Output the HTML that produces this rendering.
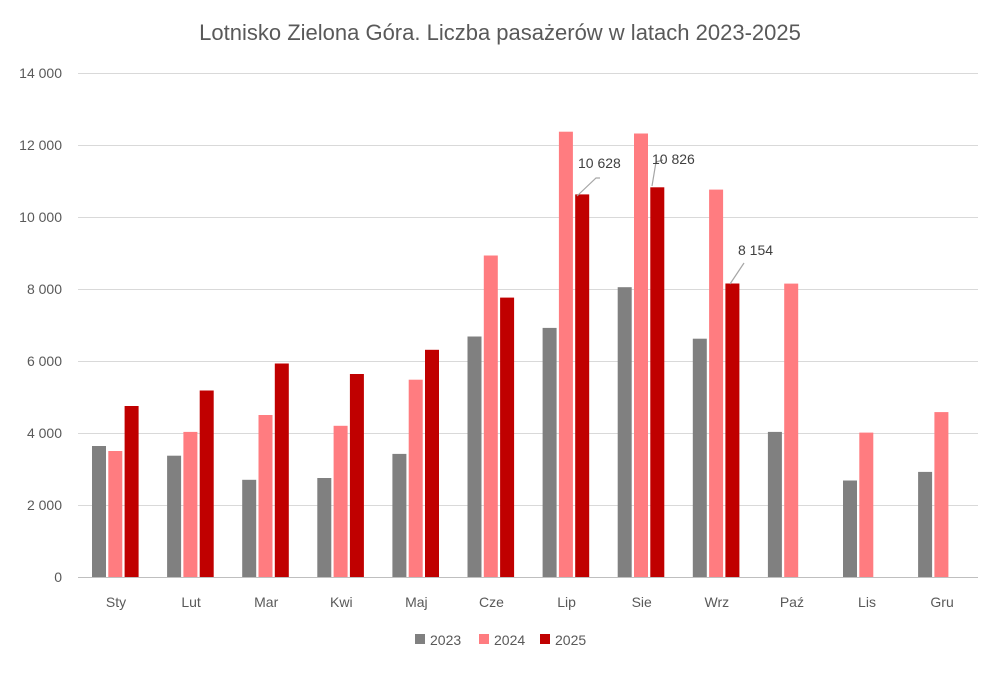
<!DOCTYPE html>
<html><head><meta charset="utf-8"><style>
body{margin:0;background:#fff}
svg{font-family:"Liberation Sans",sans-serif}
</style></head><body>
<svg width="1000" height="669" xmlns="http://www.w3.org/2000/svg">
<rect width="1000" height="669" fill="#fff"/>
<text x="500" y="40" text-anchor="middle" font-size="22" fill="#595959">Lotnisko Zielona Góra. Liczba pasażerów w latach 2023-2025</text>
<g stroke="#d9d9d9" stroke-width="1">
<line x1="78" x2="978" y1="73.5" y2="73.5"/><line x1="78" x2="978" y1="145.5" y2="145.5"/>
<line x1="78" x2="978" y1="217.5" y2="217.5"/><line x1="78" x2="978" y1="289.5" y2="289.5"/>
<line x1="78" x2="978" y1="361.5" y2="361.5"/><line x1="78" x2="978" y1="433.5" y2="433.5"/>
<line x1="78" x2="978" y1="505.5" y2="505.5"/>
</g>
<g font-size="14" fill="#595959" text-anchor="end">
<text x="62" y="78">14 000</text><text x="62" y="150">12 000</text><text x="62" y="222">10 000</text>
<text x="62" y="294">8 000</text><text x="62" y="366">6 000</text><text x="62" y="438">4 000</text>
<text x="62" y="510">2 000</text><text x="62" y="582">0</text>
</g>
<g fill="#808080">
<rect x="92" y="446" width="14" height="131"/>
<rect x="167.1" y="455.7" width="14" height="121.3"/>
<rect x="242.2" y="479.8" width="14" height="97.2"/>
<rect x="317.3" y="478" width="14" height="99"/>
<rect x="392.4" y="453.9" width="14" height="123.1"/>
<rect x="467.5" y="336.5" width="14" height="240.5"/>
<rect x="542.6" y="327.9" width="14" height="249.1"/>
<rect x="617.7" y="287.2" width="14" height="289.8"/>
<rect x="692.8" y="338.7" width="14" height="238.3"/>
<rect x="767.9" y="431.9" width="14" height="145.1"/>
<rect x="843" y="480.5" width="14" height="96.5"/>
<rect x="918.1" y="471.9" width="14" height="105.1"/>
</g>
<g fill="#FF7C80">
<rect x="108.3" y="451" width="14" height="126"/>
<rect x="183.4" y="431.9" width="14" height="145.1"/>
<rect x="258.5" y="415" width="14" height="162"/>
<rect x="333.6" y="425.8" width="14" height="151.2"/>
<rect x="408.7" y="379.7" width="14" height="197.3"/>
<rect x="483.8" y="255.5" width="14" height="321.5"/>
<rect x="558.9" y="131.7" width="14" height="445.3"/>
<rect x="634" y="133.5" width="14" height="443.5"/>
<rect x="709.1" y="189.6" width="14" height="387.4"/>
<rect x="784.2" y="283.6" width="14" height="293.4"/>
<rect x="859.3" y="432.6" width="14" height="144.4"/>
<rect x="934.4" y="412.1" width="14" height="164.9"/>
</g>
<g fill="#C00000">
<rect x="124.6" y="406" width="14" height="171"/>
<rect x="199.7" y="390.5" width="14" height="186.5"/>
<rect x="274.8" y="363.5" width="14" height="213.5"/>
<rect x="349.9" y="374" width="14" height="203"/>
<rect x="425" y="349.8" width="14" height="227.2"/>
<rect x="500.1" y="297.6" width="14" height="279.4"/>
<rect x="575.2" y="194.4" width="14" height="382.6"/>
<rect x="650.3" y="187.3" width="14" height="389.7"/>
<rect x="725.4" y="283.5" width="14" height="293.5"/>
</g>
<line x1="78" x2="978" y1="577.5" y2="577.5" stroke="#bfbfbf"/>
<g font-size="14" fill="#595959" text-anchor="middle">
<text x="116" y="607">Sty</text><text x="191.1" y="607">Lut</text><text x="266.2" y="607">Mar</text>
<text x="341.3" y="607">Kwi</text><text x="416.4" y="607">Maj</text><text x="491.5" y="607">Cze</text>
<text x="566.6" y="607">Lip</text><text x="641.7" y="607">Sie</text><text x="716.8" y="607">Wrz</text>
<text x="791.9" y="607">Paź</text><text x="867" y="607">Lis</text><text x="942.1" y="607">Gru</text>
</g>
<g stroke="#a6a6a6" fill="none" stroke-width="1.2">
<polyline points="577,196 596,178 600,178"/>
<polyline points="652,186 656,162 663,160"/>
<polyline points="730,284 744,263"/>
</g>
<g font-size="14" fill="#404040">
<text x="578" y="168">10 628</text><text x="652" y="164">10 826</text><text x="738" y="255">8 154</text>
</g>
<g font-size="14" fill="#595959">
<rect x="415" y="634" width="10" height="10" fill="#808080"/><text x="430" y="645">2023</text>
<rect x="479" y="634" width="10" height="10" fill="#FF7C80"/><text x="494" y="645">2024</text>
<rect x="540" y="634" width="10" height="10" fill="#C00000"/><text x="555" y="645">2025</text>
</g>
</svg>
</body></html>
